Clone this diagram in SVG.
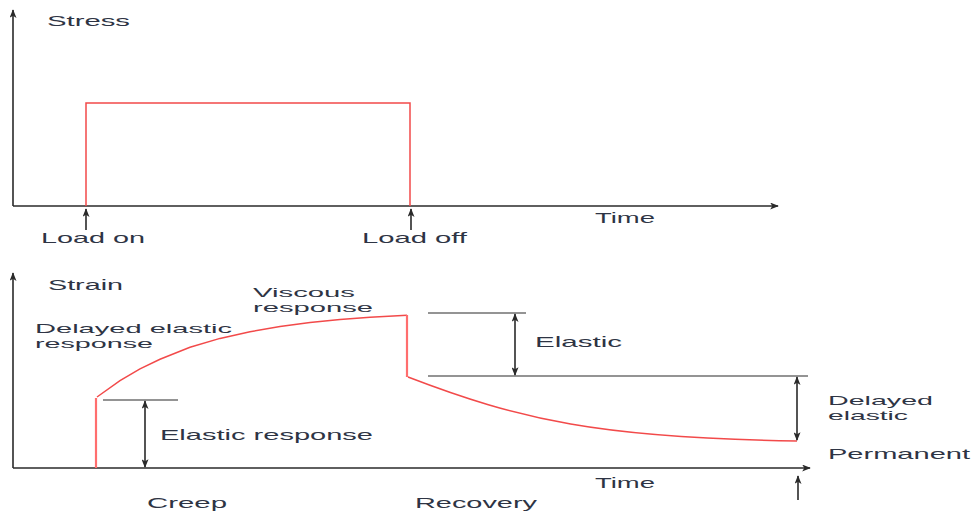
<svg xmlns="http://www.w3.org/2000/svg" width="972" height="512" viewBox="0 0 972 512">
  <style>
    .axis { stroke: #2a2a2a; stroke-width: 1.6; fill: none; }
    .guide { stroke: #2a2a2a; stroke-width: 1.2; fill: none; }
    .dim { stroke: #2a2a2a; stroke-width: 1.6; fill: none; marker-start: url(#head); marker-end: url(#head); }
    .ptr { stroke: #2a2a2a; stroke-width: 1.6; fill: none; marker-end: url(#head); }
    .curve { stroke: #f24a4a; stroke-width: 1.5; fill: none; }
    .jump { stroke: #ff6e6e; stroke-width: 2.2; fill: none; }
    .lbl { font-family: "Liberation Sans", Arial, sans-serif; font-size: 15px; fill: #2e3444; }
    .lbl2 { font-family: "Liberation Sans", Arial, sans-serif; font-size: 13.4px; fill: #2e3444; }
  </style>
  <defs>
    <marker id="head" viewBox="0 0 10 8" refX="9" refY="4" markerWidth="9" markerHeight="7" markerUnits="userSpaceOnUse" orient="auto-start-reverse">
      <path d="M0,0 L10,4 L0,8 L2.5,4 Z" fill="#2a2a2a"/>
    </marker>
  </defs>

  <!-- Stress chart -->
  <g id="stress-chart">
    <path class="axis" d="M13,206 L13,10" marker-end="url(#head)"/>
    <path class="axis" d="M13,206 L778,206" marker-end="url(#head)"/>
    <path class="curve" d="M86,206 L86,103 L410,103 L410,206"/>
    <text class="lbl" x="47" y="26" textLength="83" lengthAdjust="spacingAndGlyphs">Stress</text>
    <text class="lbl" x="595" y="223" textLength="60" lengthAdjust="spacingAndGlyphs">Time</text>
  </g>

  <g id="load-on">
    <path class="ptr" d="M86,230 L86,209"/>
    <text class="lbl" x="41" y="243" textLength="104" lengthAdjust="spacingAndGlyphs">Load on</text>
  </g>

  <g id="load-off">
    <path class="ptr" d="M411,230 L411,209"/>
    <text class="lbl" x="362" y="243" textLength="105" lengthAdjust="spacingAndGlyphs">Load off</text>
  </g>

  <!-- Strain chart -->
  <g id="strain-chart">
    <path class="axis" d="M13,468 L13,273" marker-end="url(#head)"/>
    <path class="axis" d="M13,468 L810,468" marker-end="url(#head)"/>
    <text class="lbl" x="48" y="290" textLength="75" lengthAdjust="spacingAndGlyphs">Strain</text>
    <text class="lbl" x="595" y="488" textLength="60" lengthAdjust="spacingAndGlyphs">Time</text>
    <path class="ptr" d="M798,500 L798,476"/>
  </g>

  <!-- strain response curve -->
  <g id="strain-curve">
    <path class="jump" d="M96,468 L96,398"/>
    <polyline class="curve" points="97,397 120,380.6 140,368.8 160,359.2 190,347.3 220,338.4 250,331.7 280,326.5 310,322.5 340,319.6 370,317.3 407,315.2"/>
    <path class="jump" d="M407,315 L407,377"/>
    <path class="curve" d="M408,377 C520,420 600,438 797,441"/>
  </g>

  <g id="elastic-response">
    <path class="guide" d="M103,400 L178,400"/>
    <path class="dim" d="M145,401 L145,467"/>
    <text class="lbl" x="160" y="440" textLength="213" lengthAdjust="spacingAndGlyphs">Elastic response</text>
  </g>

  <g id="delayed-elastic-response">
    <text class="lbl2" x="35" y="333" textLength="197" lengthAdjust="spacingAndGlyphs">Delayed elastic</text>
    <text class="lbl2" x="35" y="348" textLength="118" lengthAdjust="spacingAndGlyphs">response</text>
  </g>

  <g id="viscous-response">
    <text class="lbl2" x="253" y="297" textLength="102" lengthAdjust="spacingAndGlyphs">Viscous</text>
    <text class="lbl2" x="253" y="312" textLength="120" lengthAdjust="spacingAndGlyphs">response</text>
  </g>

  <g id="elastic-recovery">
    <path class="guide" d="M428,313 L526,313"/>
    <path class="guide" d="M428,376 L808,376"/>
    <path class="dim" d="M515,314 L515,375"/>
    <text class="lbl" x="535" y="347" textLength="87" lengthAdjust="spacingAndGlyphs">Elastic</text>
  </g>

  <g id="delayed-elastic-recovery">
    <path class="dim" d="M797,377 L797,440"/>
    <text class="lbl2" x="828" y="405" textLength="105" lengthAdjust="spacingAndGlyphs">Delayed</text>
    <text class="lbl2" x="828" y="420" textLength="80" lengthAdjust="spacingAndGlyphs">elastic</text>
  </g>

  <g id="permanent">
    <text class="lbl" x="828" y="459" textLength="142" lengthAdjust="spacingAndGlyphs">Permanent</text>
  </g>

  <g id="phases">
    <text class="lbl" x="147" y="508" textLength="80" lengthAdjust="spacingAndGlyphs">Creep</text>
    <text class="lbl" x="415" y="508" textLength="122" lengthAdjust="spacingAndGlyphs">Recovery</text>
  </g>
</svg>
